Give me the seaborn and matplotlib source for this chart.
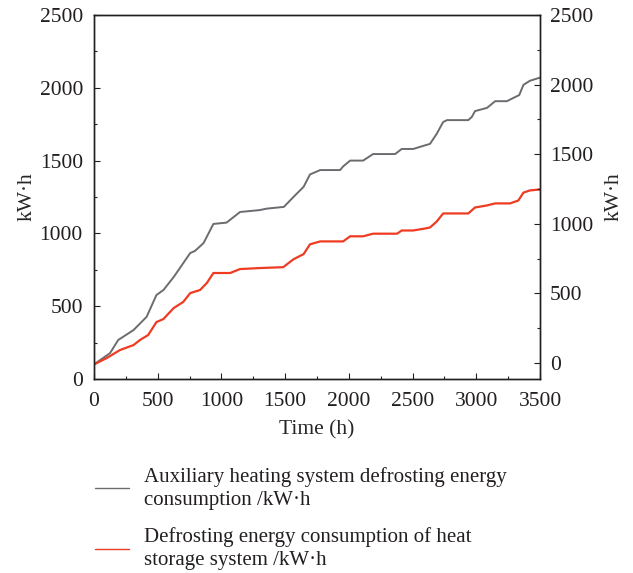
import matplotlib
matplotlib.use("Agg")
import matplotlib.pyplot as plt
from matplotlib.ticker import MultipleLocator
from matplotlib.lines import Line2D
import seaborn as sns
import pandas as pd

# ---- data ----
aux_time = [0, 126, 190, 310, 413, 490, 545, 625, 755, 793, 860, 937, 1040, 1146, 1300,
            1354, 1490, 1565, 1645, 1695, 1775, 1931, 1955, 2010, 2112, 2190, 2363, 2415,
            2505, 2580, 2637, 2690, 2740, 2770, 2937, 2965, 2990, 3084, 3148, 3240, 3290,
            3337, 3370, 3420, 3500]
aux_energy = [100, 178, 268, 336, 427, 577, 611, 700, 865, 880, 934, 1065, 1074, 1147, 1160,
              1170, 1182, 1250, 1320, 1405, 1435, 1435, 1460, 1500, 1500, 1545, 1545, 1580,
              1580, 1600, 1615, 1685, 1765, 1778, 1778, 1800, 1840, 1862, 1908, 1908, 1930,
              1950, 2020, 2048, 2070]

hs_time = [0, 100, 204, 310, 361, 425, 490, 545, 625, 700, 755, 832, 885, 937, 1068, 1146,
           1300, 1485, 1565, 1645, 1695, 1775, 1955, 2010, 2112, 2190, 2378, 2415, 2505,
           2600, 2637, 2690, 2740, 2937, 2990, 3084, 3148, 3265, 3330, 3370, 3420, 3500]
hs_energy = [100, 144, 199, 233, 268, 302, 391, 412, 487, 529, 590, 611, 659, 728, 728, 755,
             762, 768, 822, 858, 925, 945, 945, 980, 980, 998, 998, 1020, 1020, 1034, 1041,
             1082, 1137, 1137, 1178, 1192, 1206, 1206, 1226, 1280, 1295, 1302]

labels = ["Auxiliary heating system defrosting energy\nconsumption /kW\u00b7h",
          "Defrosting energy consumption of heat\nstorage system /kW\u00b7h"]
colors = ["#6b6b70", "#ee3b22"]

x_ticks = [0, 500, 1000, 1500, 2000, 2500, 3000, 3500]
y_ticks = [0, 500, 1000, 1500, 2000, 2500]

sns.set_style("ticks")
plt.rcParams["font.family"] = ["Liberation Serif", "DejaVu Serif"]
plt.rcParams["text.color"] = "#231f20"

fig = plt.figure(figsize=(6.33, 5.73), dpi=100)
ax = fig.add_axes([94 / 633, 1 - 379 / 573, 446 / 633, 364 / 573])

df1 = pd.DataFrame({"t": aux_time, "e": aux_energy})
df2 = pd.DataFrame({"t": hs_time, "e": hs_energy})
sns.lineplot(data=df1, x="t", y="e", ax=ax, color=colors[0], lw=1.4, estimator=None, sort=False)
sns.lineplot(data=df2, x="t", y="e", ax=ax, color=colors[1], lw=1.6, estimator=None, sort=False)

TICK_FS = 15.5
LAB_FS = 15.5

ax.set_xlim(0, 3500)
ax.set_ylim(0, 2500)
ax.set_xticks(x_ticks)
ax.set_yticks(y_ticks)
ax.xaxis.set_minor_locator(MultipleLocator(250))
ax.yaxis.set_minor_locator(MultipleLocator(250))
ax.tick_params(which="both", direction="in", top=False, right=False,
               labelsize=TICK_FS, colors="#231f20", width=0.8)
ax.tick_params(which="major", length=4)
ax.tick_params(which="minor", length=2.5)
ax.tick_params(axis="y", pad=8)
ax.tick_params(axis="x", pad=9)
ax.set_xlabel("Time (h)", fontsize=LAB_FS, labelpad=7)
ax.set_ylabel("kW\u00b7h", fontsize=LAB_FS, labelpad=2)
for s in ax.spines.values():
    s.set_color("#231f20")
    s.set_linewidth(1.0)

ax2 = ax.twinx()
ax2.set_ylim(-115, 2500)
ax2.set_yticks(y_ticks)
ax2.yaxis.set_minor_locator(MultipleLocator(250))
ax2.tick_params(which="both", direction="in", labelsize=TICK_FS, colors="#231f20", width=0.8)
ax2.tick_params(which="major", length=4, pad=7)
ax2.tick_params(which="minor", length=2.5)
ax2.set_ylabel("kW\u00b7h", fontsize=LAB_FS, labelpad=8)
for s in ax2.spines.values():
    s.set_color("#231f20")
    s.set_linewidth(1.0)

handles = [Line2D([], [], color=c, lw=1.0) for c in colors]
leg = fig.legend(handles, labels, loc="upper left", bbox_to_anchor=(95 / 633, 1 - 467 / 573),
                 frameon=False, fontsize=15, handlelength=1.65, handletextpad=0.7,
                 labelspacing=0.85, borderpad=0, borderaxespad=0)
for t in leg.get_texts():
    t.set_linespacing(1.28)

fig.savefig("out.png", dpi=100)
